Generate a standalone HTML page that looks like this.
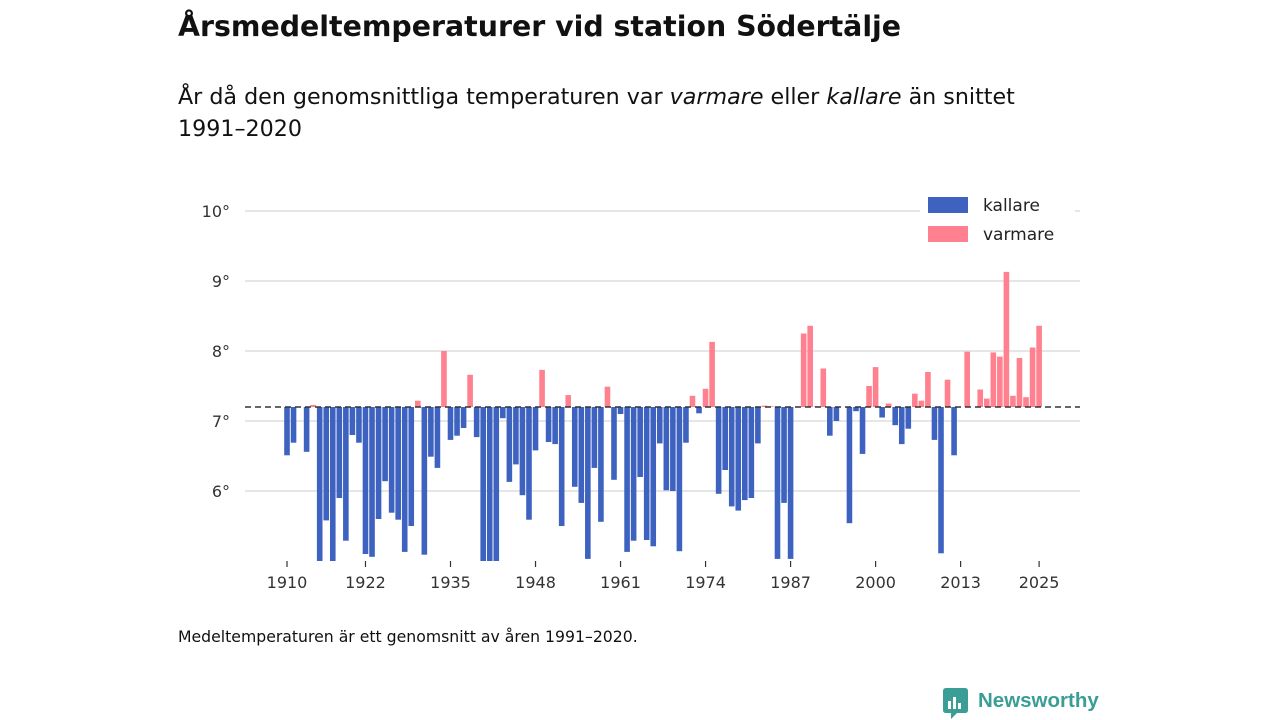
<!DOCTYPE html>
<html><head><meta charset="utf-8">
<style>
body{margin:0;width:1280px;height:720px;background:#fff;font-family:"DejaVu Sans",sans-serif;overflow:hidden;position:relative}
.t{position:absolute;left:178px;color:#111}
</style></head><body>
<div class="t" style="top:10px;font-size:28.4px;font-weight:bold">Årsmedeltemperaturer vid station Södertälje</div>
<div class="t" style="top:81px;font-size:22.2px;line-height:32px;width:950px">År då den genomsnittliga temperaturen var <i>varmare</i> eller <i>kallare</i> än snittet<br>1991–2020</div>
<div class="t" style="top:627px;font-size:15.7px">Medeltemperaturen är ett genomsnitt av åren 1991–2020.</div>
<div style="position:absolute;left:943px;top:688px;height:32px">
<svg width="30" height="32" style="position:absolute;left:0;top:0"><path d="M0 3 Q0 0 3 0 H22 Q25 0 25 3 V22 Q25 25 22 25 H14 L8 31 V25 H3 Q0 25 0 22Z" fill="#3a9e96"/><rect x="5" y="13" width="3" height="8" fill="#fff"/><rect x="10" y="9" width="3" height="12" fill="#fff"/><rect x="15" y="15" width="3" height="6" fill="#fff"/></svg>
<span style="position:absolute;left:35px;top:1px;font-size:20.5px;font-weight:bold;color:#3a9e96;font-family:'Liberation Sans',sans-serif">Newsworthy</span></div>
<svg id="c" width="1280" height="720" style="position:absolute;left:0;top:0"></svg>
<script>
const startYear=1910;
const temps=[6.51,6.69,7.2,6.56,7.23,4.9,5.58,4.9,5.9,5.29,6.8,6.69,5.1,5.06,5.6,6.14,5.69,5.59,5.13,5.5,7.29,5.09,6.49,6.33,8.0,6.73,6.79,6.9,7.66,6.77,4.9,4.9,4.9,7.04,6.13,6.38,5.94,5.59,6.58,7.73,6.7,6.67,5.5,7.37,6.06,5.83,5.03,6.33,5.56,7.49,6.16,7.1,5.13,5.29,6.2,5.3,5.21,6.68,6.01,6.0,5.14,6.69,7.36,7.11,7.46,8.13,5.96,6.3,5.78,5.72,5.87,5.9,6.68,7.22,7.21,5.03,5.83,5.03,7.2,8.25,8.36,7.21,7.75,6.79,7.0,7.2,5.54,7.14,6.53,7.5,7.77,7.05,7.25,6.94,6.67,6.89,7.39,7.29,7.7,6.73,5.11,7.59,6.51,7.2,7.99,7.2,7.45,7.32,7.98,7.92,9.13,7.36,7.9,7.34,8.05,8.36];
const mean=7.2;
const yTicks=[6,7,8,9,10];
const xTicks=[1910,1922,1935,1948,1961,1974,1987,2000,2013,2025];
const X=y=>287+(y-1910)*6.54;
const Y=v=>421-(Math.max(v,5)-7)*70;
const s=document.getElementById('c'),NS='http://www.w3.org/2000/svg';
function mk(t,a,p){const e=document.createElementNS(NS,t);for(const k in a)e.setAttribute(k,a[k]);(p||s).appendChild(e);return e;}
yTicks.forEach(v=>{
 const l=mk('line',{x1:245,x2:1080,y1:Y(v),y2:Y(v),stroke:'#ddd','stroke-width':1.5});
 
 
 const t=mk('text',{x:230,y:Y(v)+6,'text-anchor':'end','font-size':16,fill:'#333'});
 t.textContent=v+'°';
 
 
});
temps.forEach((v,i)=>{
 const yr=startYear+i;
 if(Math.abs(v-mean)<0.005)return;
 const a=Y(v),b=Y(mean);
 const r=mk('rect',{x:X(yr)-2.8,y:Math.min(a,b),width:5.6,height:Math.abs(a-b),fill:v>mean?'#ff808e':'#3e62c0'});
 
 
});
const ml=mk('line',{x1:245,x2:1080,y1:Y(mean),y2:Y(mean),stroke:'#333','stroke-width':1.6,'stroke-dasharray':'6,4'});


xTicks.forEach(y=>{
 const l=mk('line',{x1:X(y),x2:X(y),y1:561,y2:567,stroke:'#333','stroke-width':1.2});
 
 
 const t=mk('text',{x:X(y),y:588,'text-anchor':'middle','font-size':16,fill:'#333'});
 t.textContent=y;
 
 
});
const lg=mk('g',{});


mk('rect',{x:920,y:192,width:155,height:56,fill:'#fff'},lg);
[['kallare','#3e62c0',197],['varmare','#ff808e',226]].forEach(([n,c,y])=>{
 const r=mk('rect',{x:928,y:y,width:40,height:16,fill:c},lg);
 
 
 const t=mk('text',{x:983,y:y+14,'font-size':17,fill:'#222'},lg);
 t.textContent=n;
 
 
});
</script>
</body></html>
